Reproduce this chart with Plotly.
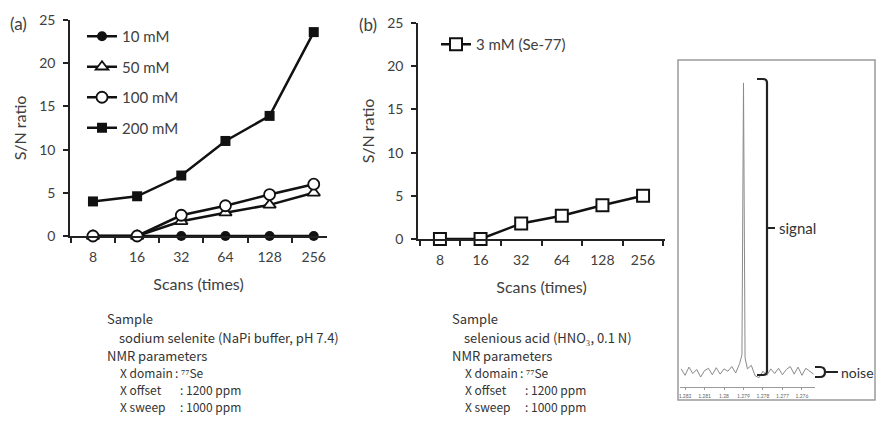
import plotly.graph_objects as go

W, H = 876, 421

# ---------------- data ----------------
scans = ["8", "16", "32", "64", "128", "256"]
sn_10mM = [0, 0, 0, 0, 0, 0]
sn_50mM = [0, 0, 1.7, 2.7, 3.6, 5.0]
sn_100mM = [0, 0, 2.4, 3.5, 4.8, 6.0]
sn_200mM = [4.0, 4.6, 7.0, 11.0, 13.9, 23.6]
sn_3mM_se77 = [0, 0, 1.8, 2.7, 3.9, 5.0]
y_ticks = [0, 5, 10, 15, 20, 25]

spec_ppm = [1.2822, 1.2820, 1.2818, 1.2816, 1.2814, 1.2812, 1.2810, 1.2808,
            1.2806, 1.2804, 1.2802, 1.2800, 1.2798, 1.2796, 1.2794, 1.2792,
            1.27908, 1.27900, 1.27892, 1.2788, 1.2786, 1.2784, 1.2782, 1.2780,
            1.2778, 1.2776, 1.2774, 1.2772, 1.2770, 1.2768, 1.2766, 1.2764,
            1.2762, 1.2760, 1.2758, 1.2756, 1.2754]
spec_int = [0.012, -0.010, 0.018, -0.004, 0.010, -0.016, 0.006, 0.014,
            -0.008, 0.016, -0.006, 0.012, 0.004, 0.020, -0.002, 0.030,
            0.060, 0.990, 0.050, 0.012, 0.024, -0.012, -0.018, 0.004,
            -0.010, 0.012, -0.004, 0.014, -0.008, 0.010, 0.020, -0.006,
            0.018, -0.010, 0.014, 0.004, -0.006]
spec_tickvals = [1.282, 1.281, 1.280, 1.279, 1.278, 1.277, 1.276]
spec_ticktext = ["1.282", "1.281", "1.28", "1.279", "1.278", "1.277", "1.276"]


def px(x):
    return x / W


def py(y):
    return 1 - y / H


LINE = "#111111"
AXC = "#222222"
TXT = "#404040"
FONT = "Lato"
CJK = "Noto Sans CJK JP"

fig = go.Figure()

# ---------------- panel (a) ----------------
fig.add_trace(go.Scatter(
    x=scans, y=sn_10mM, name="10 mM", mode="lines+markers",
    line=dict(color=LINE, width=2.5),
    marker=dict(symbol="circle", size=10, color=LINE),
    cliponaxis=False, legendgroup="a1", xaxis="x", yaxis="y"))
fig.add_trace(go.Scatter(
    x=scans, y=sn_50mM, name="50 mM", mode="lines+markers",
    line=dict(color=LINE, width=2.5),
    marker=dict(symbol="triangle-up", size=11, color="white",
                line=dict(color=LINE, width=1.8)),
    cliponaxis=False, legendgroup="a2", xaxis="x", yaxis="y"))
fig.add_trace(go.Scatter(
    x=scans, y=sn_100mM, name="100 mM", mode="lines+markers",
    line=dict(color=LINE, width=2.5),
    marker=dict(symbol="circle", size=11, color="white",
                line=dict(color=LINE, width=1.8)),
    cliponaxis=False, legendgroup="a3", xaxis="x", yaxis="y"))
fig.add_trace(go.Scatter(
    x=scans, y=sn_200mM, name="200 mM", mode="lines+markers",
    line=dict(color=LINE, width=2.5),
    marker=dict(symbol="square", size=10, color=LINE),
    cliponaxis=False, legendgroup="a4", xaxis="x", yaxis="y"))

# ---------------- panel (b) ----------------
fig.add_trace(go.Scatter(
    x=scans, y=sn_3mM_se77, name="3 mM (Se-77)", mode="lines+markers",
    line=dict(color=LINE, width=2.5),
    marker=dict(symbol="square", size=12, color="white",
                line=dict(color=LINE, width=2)),
    cliponaxis=False, legend="legend2", xaxis="x2", yaxis="y2"))

# ---------------- spectrum inset ----------------
fig.add_trace(go.Scatter(
    x=spec_ppm, y=spec_int, mode="lines", showlegend=False,
    line=dict(color="#8a8a8a", width=1), hoverinfo="skip",
    xaxis="x3", yaxis="y3"))

tickfont = dict(family=FONT, size=14, color=TXT)
titlefont = dict(family=FONT, size=16, color=TXT)


def xcat(domain, rng):
    return dict(domain=domain, type="category", range=rng, automargin=False,
                showline=True, linecolor=AXC, linewidth=1.5,
                ticks="outside", tickson="boundaries", ticklen=5,
                tickcolor=AXC, tickwidth=1.5, tickfont=tickfont,
                ticklabelstandoff=7, showgrid=False, zeroline=False,
                title=dict(text="Scans (times)", font=titlefont, standoff=15))


def ylin(domain):
    return dict(domain=domain, range=[0, 25], tickvals=y_ticks,
                automargin=False,
                showline=True, linecolor=AXC, linewidth=1.5,
                ticks="outside", ticklen=5, tickcolor=AXC, tickwidth=1.5,
                tickfont=tickfont, ticklabelstandoff=5,
                showgrid=False, zeroline=False,
                title=dict(text="S/N ratio", font=titlefont, standoff=9))


fig.update_layout(
    width=W, height=H,
    margin=dict(l=0, r=0, t=0, b=0, autoexpand=False),
    paper_bgcolor="white", plot_bgcolor="rgba(0,0,0,0)",
    font=dict(family=FONT, color=TXT),
    xaxis=dict(**xcat([px(70), px(327)], [-0.52, 5.3]), anchor="y"),
    yaxis=dict(**ylin([py(236), py(20)]), anchor="x"),
    xaxis2=dict(**xcat([px(418), px(665)], [-0.54, 5.54]), anchor="y2"),
    yaxis2=dict(**ylin([py(239), py(23)]), anchor="x2"),
    xaxis3=dict(domain=[px(680), px(815)], range=[1.28226, 1.27533],
                anchor="y3", automargin=False,
                showline=True, linecolor="#9a9a9a", linewidth=1,
                tickvals=spec_tickvals, ticktext=spec_ticktext,
                ticks="outside", ticklen=2, tickcolor="#9a9a9a",
                tickfont=dict(family=FONT, size=5, color="#666666"),
                ticklabelstandoff=2, showgrid=False, zeroline=False),
    yaxis3=dict(domain=[py(387), py(80)], range=[-0.05, 1.0], anchor="x3",
                automargin=False, visible=False),
    legend=dict(x=px(82), y=py(20), xanchor="left", yanchor="top",
                font=dict(family=FONT, size=15, color=TXT),
                bgcolor="rgba(0,0,0,0)", tracegroupgap=8, itemwidth=30,
                traceorder="grouped"),
    legend2=dict(x=px(436), y=py(28), xanchor="left", yanchor="top",
                 font=dict(family=FONT, size=15, color=TXT),
                 bgcolor="rgba(0,0,0,0)", itemwidth=30),
    showlegend=True,
)

# ---------------- annotations ----------------
ann = []


def text(t, x, y, size=13, family=CJK, anchor="left", color="#333333"):
    ann.append(dict(text=t, x=px(x), y=py(y), xref="paper", yref="paper",
                    xanchor=anchor, yanchor="middle", showarrow=False,
                    font=dict(family=family, size=size, color=color)))


text("(a)", 8, 24, size=17, family=FONT, color=TXT)
text("(b)", 357, 25, size=17, family=FONT, color=TXT)

blocks = [
    (0, "sodium selenite (NaPi buffer, pH 7.4)"),
    (345, "selenious acid (HNO₃, 0.1 N)"),
]
for dx, sample in blocks:
    text("Sample", 105 + dx, 318)
    text(sample, 117 + dx, 337)
    text("NMR parameters", 105 + dx, 355)
    text("X domain", 118 + dx, 372, size=12)
    text(": ⁷⁷Se", 173 + dx, 372, size=12)
    text("X offset", 118 + dx, 389, size=12)
    text(": 1200 ppm", 178 + dx, 389, size=12)
    text("X sweep", 118 + dx, 406, size=12)
    text(": 1000 ppm", 178 + dx, 406, size=12)

text("signal", 777, 228, size=15, family=FONT, color="#333333")
text("noise", 839, 372, size=14, family=FONT, color="#333333")
fig.update_layout(annotations=ann)

# ---------------- shapes: inset frame and brackets ----------------
def P(x, y):
    return f"{px(x):.5f},{py(y):.5f}"


sig_path = (f"M {P(757, 79)} L {P(763, 79)} Q {P(767, 79)} {P(767, 83)} "
            f"L {P(767, 371)} Q {P(767, 375)} {P(763, 375)} L {P(757, 375)} "
            f"M {P(767, 228)} L {P(775, 228)}")
noise_path = (f"M {P(815, 367)} L {P(820, 367)} Q {P(825, 367)} {P(825, 372)} "
              f"Q {P(825, 377)} {P(820, 377)} L {P(815, 377)} "
              f"M {P(825, 372)} L {P(838, 372)}")

fig.update_layout(shapes=[
    dict(type="rect", xref="paper", yref="paper",
         x0=px(678), x1=px(875), y0=py(400), y1=py(60),
         line=dict(color="#9a9a9a", width=1.5), fillcolor="rgba(0,0,0,0)"),
    dict(type="path", xref="paper", yref="paper", path=sig_path,
         line=dict(color="#222222", width=2.2)),
    dict(type="path", xref="paper", yref="paper", path=noise_path,
         line=dict(color="#222222", width=2.2)),
])

fig.write_html("out.html",
               config={"displayModeBar": False},
               post_script="document.body.style.margin='0';"
                           "document.body.style.overflow='hidden';")
